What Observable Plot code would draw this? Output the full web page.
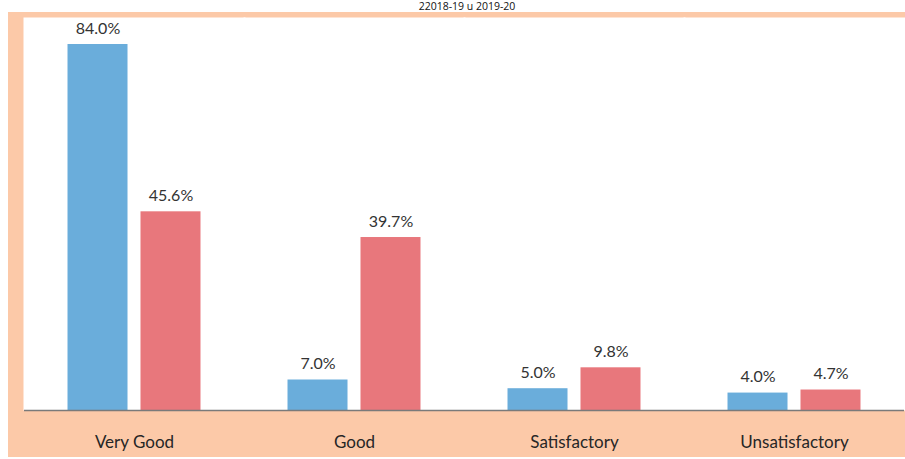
<!DOCTYPE html>
<html>
<head>
<meta charset="utf-8">
<script src="https://cdn.jsdelivr.net/npm/d3@7"></script>
<script src="https://cdn.jsdelivr.net/npm/@observablehq/plot@0.6"></script>
<style>
  html, body { margin: 0; padding: 0; background: #ffffff; }
  #title { height: 12px; line-height: 13px; font-family: "Open Sans", sans-serif; font-size: 10.5px; color: #111; text-align: center; padding-left: 29px; width: 876px; }
  #chart { margin-left: 8px; }
  #chart svg { display: block; }
</style>
</head>
<body>
<div id="title">22018-19 u 2019-20</div>
<div id="chart"></div>
<script>
const categories = ["Very Good", "Good", "Satisfactory", "Unsatisfactory"];
const years = ["2018-19", "2019-20"];
const values2018 = [84.0, 7.0, 5.0, 4.0];
const values2019 = [45.6, 39.7, 9.8, 4.7];
const colors = ["#6aaddb", "#e8777c"];

const data = [];
categories.forEach((c, i) => {
  data.push({category: c, year: years[0], value: values2018[i]});
  data.push({category: c, year: years[1], value: values2019[i]});
});

const chart = Plot.plot({
  width: 897,
  height: 445,
  marginLeft: 16,
  marginRight: 1,
  marginTop: 32,
  marginBottom: 47,
  style: {background: "#fcc9a8", fontFamily: "Lato, sans-serif", fontSize: "17px", color: "#262626"},
  fx: {domain: categories, padding: 0, label: null, tickSize: 0, tickPadding: 25},
  x: {domain: years, paddingInner: 0.178, paddingOuter: 0.596, round: false, axis: null},
  y: {domain: [0, 84], axis: null},
  color: {domain: years, range: colors},
  marks: [
    Plot.frame({fill: "white", stroke: "none", insetTop: -27, insetLeft: -1, insetRight: -1}),
    Plot.barY(data, {fx: "category", x: "year", y: "value", fill: "year"}),
    Plot.ruleY([0], {stroke: "#7a7a7a", strokeWidth: 1.5}),
    Plot.text(data, {fx: "category", x: "year", y: "value", text: d => d.value.toFixed(1) + "%", dy: -16, fill: "#333", fontSize: 16})
  ]
});
document.getElementById("chart").appendChild(chart);
</script>
</body>
</html>
